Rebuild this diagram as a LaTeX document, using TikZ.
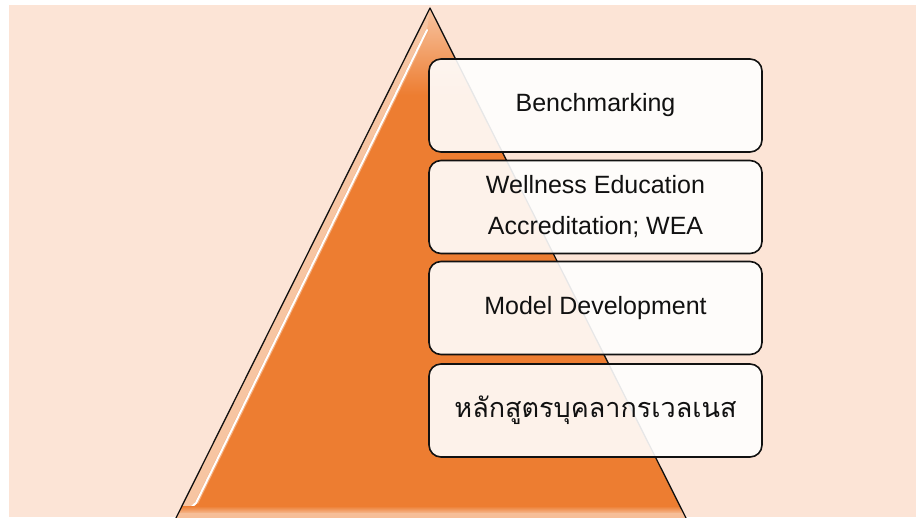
\documentclass[tikz,border=0pt]{standalone}
\usepackage{fontspec}
\setmainfont{Liberation Sans}
\newfontfamily\thaifont[Script=Thai]{Loma}
\definecolor{bgpeach}{HTML}{FCE4D6}
\definecolor{pyr}{HTML}{ED7D31}
\definecolor{ink}{HTML}{111111}
\begin{document}
\begin{tikzpicture}[x=1pt,y=-1pt,
  box/.style={draw=ink, line width=1.6pt, rounded corners=12pt, fill=white,
    fill opacity=0.9, text opacity=1, text=ink, minimum width=333pt,
    minimum height=93pt, align=center, inner sep=0pt,
    font=\fontsize{25}{41}\selectfont}]
\useasboundingbox (0,0) rectangle (916,517);
\fill[white] (0,0) rectangle (916,517);
\fill[bgpeach] (9,5) rectangle (916,517);
% pyramid
\coordinate (apex) at (430,8);
\coordinate (bl) at (174,522);
\coordinate (br) at (688,522);
\fill[pyr] (apex) -- (br) -- (bl) -- cycle;
\begin{scope}
  \clip (apex) -- (br) -- (bl) -- cycle;
  \shade[top color=pyr!45!white, bottom color=pyr] (395,8) rectangle (470,95);
  \fill[pyr!45!white] (apex) -- (bl) -- (190,512) -- (196,503) -- (427,30) -- cycle;
  \draw[pyr!65!white, line width=3.5pt] (427.5,30) -- (196.5,503);
  \draw[white, line width=2pt, line cap=round] (427,30) -- (196,503) -- (186,512);
  \shade[top color=pyr, bottom color=pyr!55!white] (170,506) rectangle (700,513);
  \fill[pyr!50!white] (170,513) rectangle (700,522);
\end{scope}
\draw[ink, line width=1.3pt, line join=round] (bl) -- (apex) -- (br);
% boxes
\node[box] (b1) at (595.5,105.5) {Benchmarking};
\node[box] (b2) at (595.5,207) {Wellness Education\\Accreditation; WEA};
\node[box] (b3) at (595.5,308) {Model Development};
\node[box, font=\thaifont\fontsize{27}{30}\selectfont] (b4) at (595.5,410.5) {หลักสูตรบุคลากรเวลเนส};
\end{tikzpicture}
\end{document}
